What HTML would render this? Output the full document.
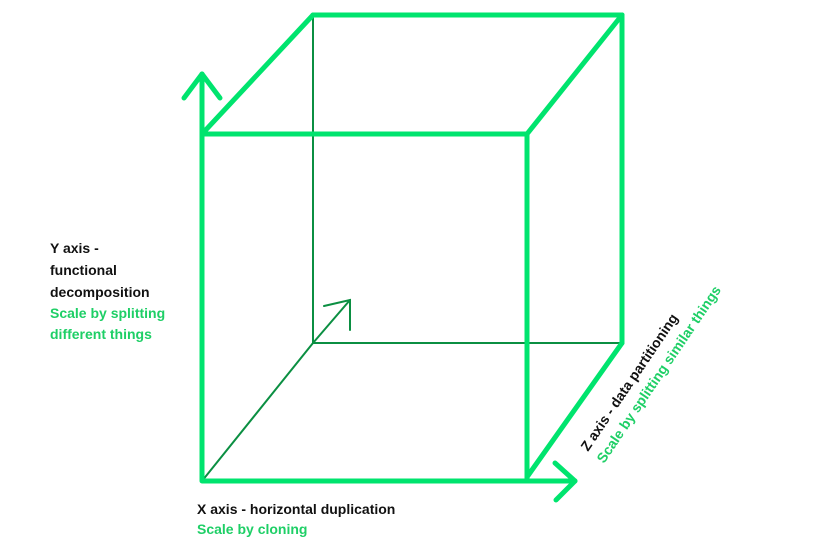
<!DOCTYPE html>
<html><head><style>
html,body{margin:0;padding:0;background:#fff;width:813px;height:543px;overflow:hidden}
svg{display:block}
text{font-family:"Liberation Sans",sans-serif;font-weight:bold;font-size:14px}
</style></head><body>
<svg width="813" height="543" viewBox="0 0 813 543" xmlns="http://www.w3.org/2000/svg">
<g stroke="#0b8f42" stroke-width="2" fill="none" stroke-linecap="round">
<line x1="313" y1="15" x2="313" y2="343"/>
<line x1="313" y1="343" x2="622" y2="343"/>
<line x1="202" y1="481" x2="313" y2="343"/>
<line x1="313" y1="343" x2="350" y2="300"/>
<polyline points="324,306 350,300 350,330"/>
</g>
<g stroke="#00e46e" stroke-width="5" fill="none" stroke-linecap="round" stroke-linejoin="round">
<rect x="202" y="134" width="325" height="347"/>
<line x1="313" y1="15" x2="622" y2="15"/>
<line x1="622" y1="15" x2="622" y2="343"/>
<line x1="202" y1="134" x2="313" y2="15"/>
<line x1="527" y1="134" x2="622" y2="15"/>
<line x1="622" y1="343" x2="527" y2="477"/>
<line x1="527" y1="481" x2="575" y2="481"/>
<polyline points="555,463 575,481 556,500"/>
<line x1="202" y1="134" x2="202" y2="74"/>
<polyline points="184,98 202,74 220,98"/>
</g>
<g fill="#111">
<text x="50" y="253">Y axis -</text>
<text x="50" y="275">functional</text>
<text x="50" y="297">decomposition</text>
<text x="197" y="514">X axis - horizontal duplication</text>
</g>
<g fill="#1ecf66">
<text x="50" y="318">Scale by splitting</text>
<text x="50" y="339">different things</text>
<text x="197" y="534">Scale by cloning</text>
</g>
<text x="588" y="452" fill="#111" transform="rotate(-56 588 452)">Z axis - data partitioning</text>
<text x="604" y="464" fill="#1ecf66" transform="rotate(-56 604 464)">Scale by splitting similar things</text>
</svg>
</body></html>
